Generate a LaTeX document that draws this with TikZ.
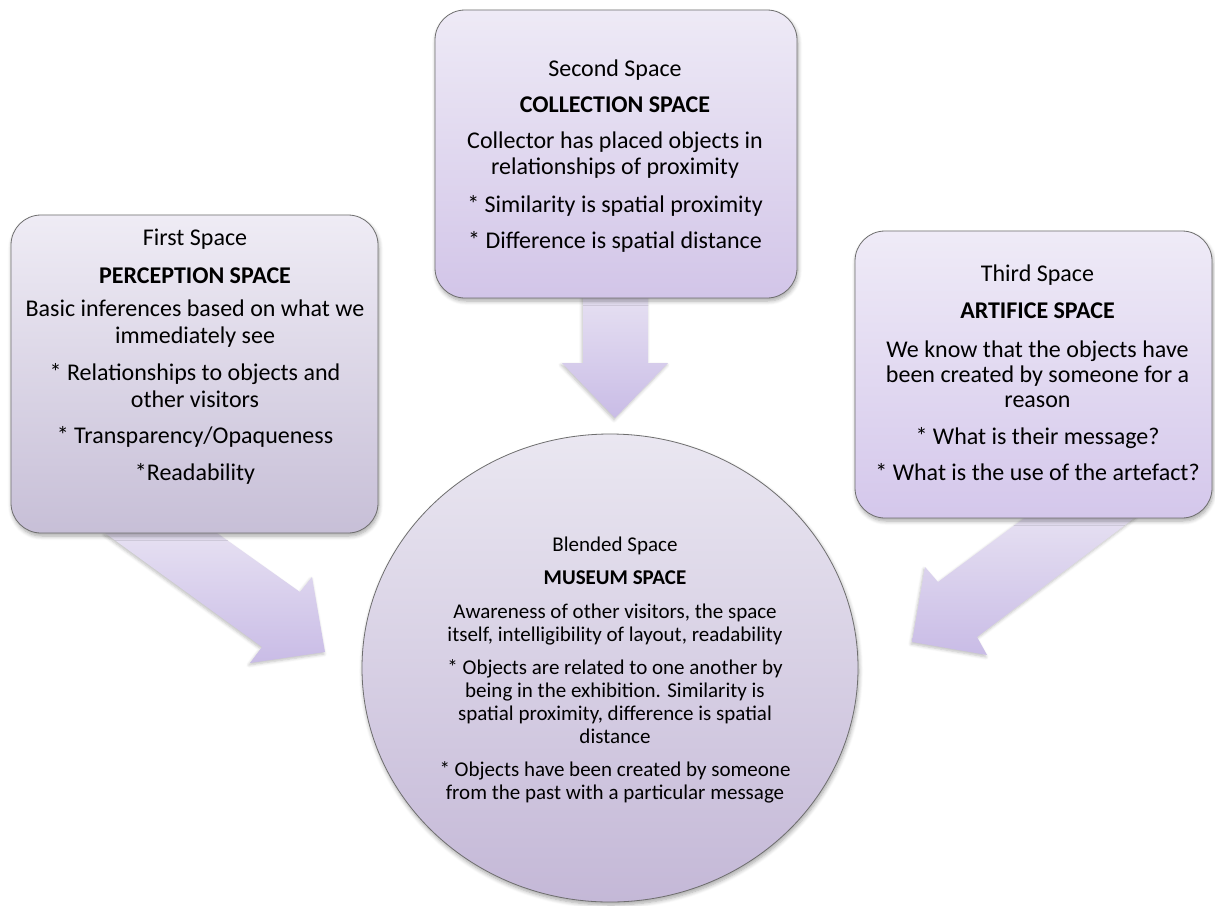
\documentclass[tikz,border=0pt]{standalone}
\usepackage{fontspec}
\setmainfont{Carlito}
\usetikzlibrary{shapes.geometric,shadows.blur}

% lavender fills
\definecolor{firsttop}{HTML}{EFECF5}
\definecolor{firstbot}{HTML}{C7BFD7}
\definecolor{secondtop}{HTML}{EEEAF6}
\definecolor{secondbot}{HTML}{D2C5E8}
\definecolor{thirdtop}{HTML}{EFEBF7}
\definecolor{thirdbot}{HTML}{D4C7EB}
\definecolor{blendtop}{HTML}{EAE7F1}
\definecolor{blendbot}{HTML}{C4B8D7}
\definecolor{arrowtop}{HTML}{E6E0F2}
\definecolor{arrowbot}{HTML}{C9BCE6}
\definecolor{edge}{HTML}{6E6E6E}

% fixed-height strut for the first line of each text block
\newcommand{\firstline}[1]{\rule{0pt}{#1}}

\begin{document}
\begin{tikzpicture}[x=1pt,y=-1pt,
  softshadow/.style={blur shadow={shadow xshift=1pt, shadow yshift=-3pt,
      shadow blur radius=4pt, shadow blur steps=6, shadow opacity=35}},
  spacebox/.style={draw=edge, line width=0.8pt, rounded corners=30pt,
      softshadow},
  blendshape/.style={ellipse, draw=edge, line width=0.8pt, softshadow,
      top color=blendtop, bottom color=blendbot},
  blockarrow/.style={top color=arrowtop, bottom color=arrowbot,
      blur shadow={shadow xshift=-1pt, shadow yshift=-2pt,
      shadow blur radius=3pt, shadow blur steps=5, shadow opacity=25}},
  boxtext/.style={align=center, inner sep=0pt, anchor=north},
]
\useasboundingbox (0,0) rectangle (1215,905);

% block arrows (behind the shapes)
\shade[blockarrow] (105,533) -- (262,647) -- (250,663) -- (325,652)
  -- (312,577) -- (300,592) -- (217,533) -- cycle;
\shade[blockarrow] (583,296) -- (583,363) -- (562,363) -- (615,418)
  -- (668,363) -- (648,363) -- (648,296) -- cycle;
\shade[blockarrow] (1027,516) -- (938,582) -- (925,567) -- (912,642)
  -- (987,655) -- (977,637) -- (1137,516) -- cycle;

% the four spaces
\node[spacebox, top color=firsttop, bottom color=firstbot,
  minimum width=367pt, minimum height=318pt] (first) at (194.5,374) {};
\node[spacebox, top color=secondtop, bottom color=secondbot,
  minimum width=362pt, minimum height=288pt] (second) at (616,154) {};
\node[spacebox, top color=thirdtop, bottom color=thirdbot,
  minimum width=357pt, minimum height=287pt] (third) at (1033.5,374.5) {};
\node[blendshape, minimum width=496pt, minimum height=468pt,
  inner sep=0pt] (blend) at (610,668) {};

% texts
\node[boxtext, font=\fontsize{24}{27}\selectfont] (first-text)
  at (195,227) {%
  \firstline{18pt}First Space\\[11pt]
  \textbf{PERCEPTION SPACE}\\[6pt]
  Basic inferences based on what we\\
  immediately see\\[10pt]
  * Relationships to objects and\\
  other visitors\\[9pt]
  * Transparency/Opaqueness\\[10pt]
  *Readability};

\node[boxtext, font=\fontsize{24}{26}\selectfont] (second-text)
  at (615,58) {%
  \firstline{18pt}Second Space\\[10pt]
  \textbf{COLLECTION SPACE}\\[10pt]
  Collector has placed objects in\\
  relationships of proximity\\[12pt]
  * Similarity is spatial proximity\\[10pt]
  * Difference is spatial distance};

\node[boxtext, font=\fontsize{24}{25}\selectfont] (third-text)
  at (1037.5,263.5) {%
  \firstline{18pt}Third Space\\[11.5pt]
  \textbf{ARTIFICE SPACE}\\[14pt]
  We know that the objects have\\
  been created by someone for a\\
  reason\\[12pt]
  * What is their message?\\[11pt]
  * What is the use of the artefact?};

\node[boxtext, font=\fontsize{21}{23}\selectfont] (blend-text)
  at (615,535) {%
  \firstline{16pt}Blended Space\\[10pt]
  \textbf{MUSEUM SPACE}\\[11pt]
  Awareness of other visitors, the space\\
  itself, intelligibility of layout, readability\\[10pt]
  * Objects are related to one another by\\
  being in the exhibition. Similarity is\\
  spatial proximity, difference is spatial\\
  distance\\[10pt]
  * Objects have been created by someone\\
  from the past with a particular message};
\end{tikzpicture}
\end{document}
